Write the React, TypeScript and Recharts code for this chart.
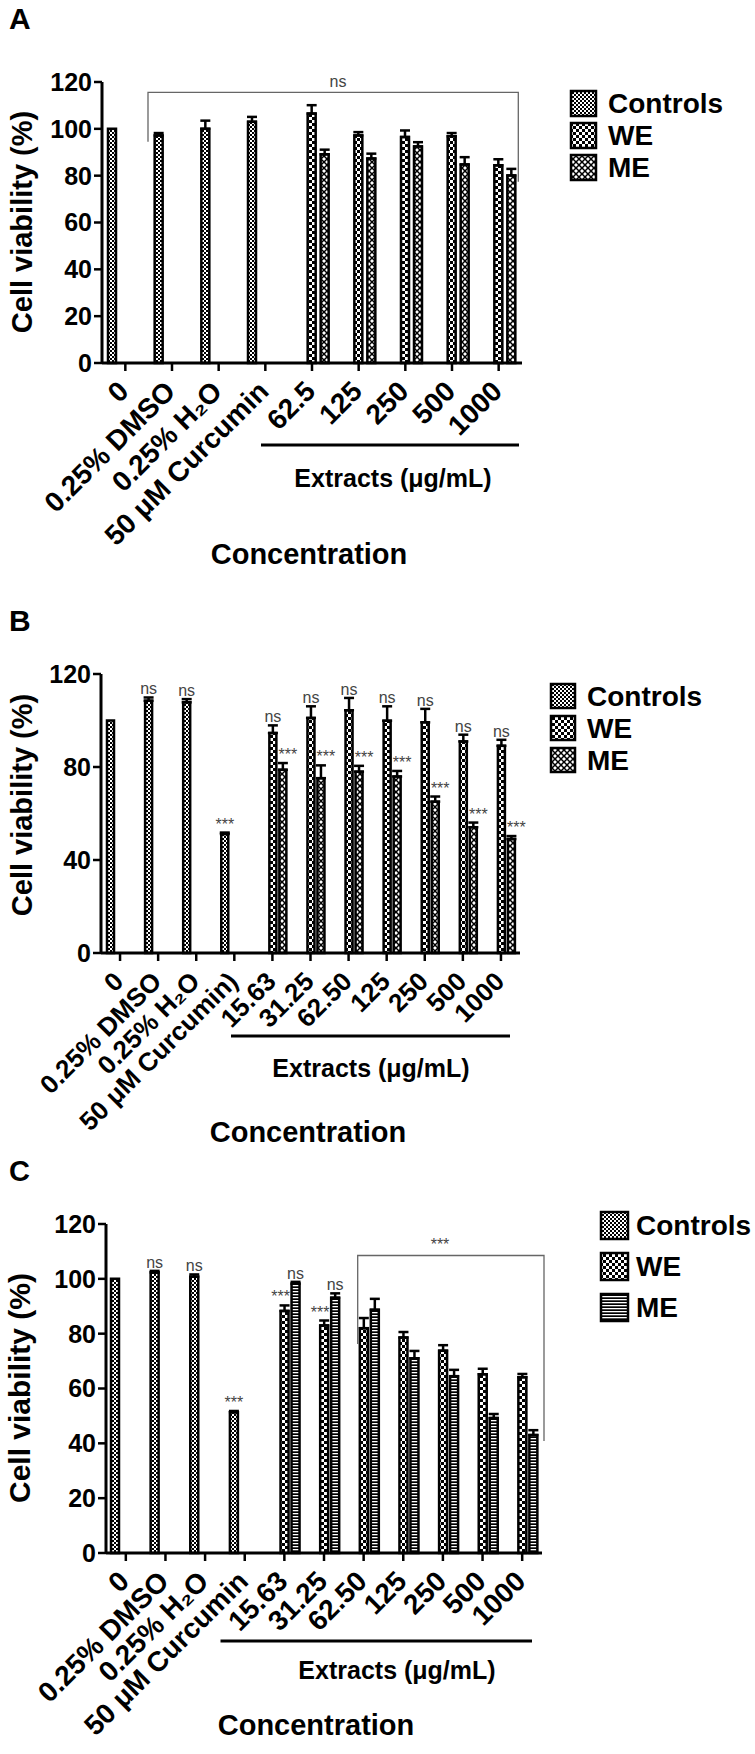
import React from 'react';
import { BarChart, Bar, XAxis, YAxis, ErrorBar, LabelList } from 'recharts';

const FONT = '"Liberation Sans", Arial, Helvetica, sans-serif';

const seriesNames = ['Controls', 'WE', 'ME'];

// ---- panel A ----
const catsA = ['0', '0.25% DMSO', '0.25% H₂O', '50 μM Curcumin', '62.5', '125', '250', '500', '1000'];
const ctrlA = [100, 97.2, 100, 103, null, null, null, null, null];
const ctrlErrA = [null, 1, 3.5, 2.1, null, null, null, null, null];
const weA = [null, null, null, null, 106.5, 97.2, 96.5, 96.8, 84.4];
const weErrA = [null, null, null, null, 3.6, 1.4, 2.8, 1.4, 2.6];
const meA = [null, null, null, null, 89.1, 87.3, 92.5, 84.8, 80.1];
const meErrA = [null, null, null, null, 2, 2.1, 1.8, 3.1, 2.8];
const ctrlSigA = [null, null, null, null, null, null, null, null, null];
const weSigA = [null, null, null, null, null, null, null, null, null];
const meSigA = [null, null, null, null, null, null, null, null, null];
const ticksA = [0, 20, 40, 60, 80, 100, 120];

// ---- panel B ----
const catsB = ['0', '0.25% DMSO', '0.25% H₂O', '50 μM Curcumin)', '15.63', '31.25', '62.50', '125', '250', '500', '1000'];
const ctrlB = [100, 108.5, 107.8, 51.2, null, null, null, null, null, null, null];
const ctrlErrB = [null, 1.4, 1.4, 0.6, null, null, null, null, null, null, null];
const weB = [null, null, null, null, 94.6, 101.1, 104.4, 99.9, 99.2, 91, 89.1];
const weErrB = [null, null, null, null, 3.3, 5, 5.3, 6.2, 5.8, 2.9, 2.6];
const meB = [null, null, null, null, 78.8, 75.2, 78, 75.9, 65.1, 54.1, 49];
const meErrB = [null, null, null, null, 2.9, 5.5, 2.5, 2.4, 2.2, 2, 1.3];
const ctrlSigB = [null, 'ns', 'ns', '***', null, null, null, null, null, null, null];
const weSigB = [null, null, null, null, 'ns', 'ns', 'ns', 'ns', 'ns', 'ns', 'ns'];
const meSigB = [null, null, null, null, '***', '***', '***', '***', '***', '***', '***'];
const ticksB = [0, 40, 80, 120];

// ---- panel C ----
const catsC = ['0', '0.25% DMSO', '0.25% H₂O', '50 μM Curcumin', '15.63', '31.25', '62.50', '125', '250', '500', '1000'];
const ctrlC = [100, 102.3, 100.8, 51.3, null, null, null, null, null, null, null];
const ctrlErrC = [null, 0.6, 0.8, 0.5, null, null, null, null, null, null, null];
const weC = [null, null, null, null, 88.3, 83, 82, 78.6, 73.8, 65.2, 64.1];
const weErrC = [null, null, null, null, 2, 1.8, 3.7, 2, 2, 2, 1.2];
const meC = [null, null, null, null, 98.2, 93.1, 88.7, 71, 64.5, 49.2, 43];
const meErrC = [null, null, null, null, 0.7, 1.6, 4, 2.7, 2.3, 1.5, 1.8];
const ctrlSigC = [null, 'ns', 'ns', '***', null, null, null, null, null, null, null];
const weSigC = [null, null, null, null, '***', '***', null, null, null, null, null];
const meSigC = [null, null, null, null, 'ns', 'ns', null, null, null, null, null];
const ticksC = [0, 20, 40, 60, 80, 100, 120];

const panels = [
  {
    id: 'A', cats: catsA, ctrl: ctrlA, ctrlErr: ctrlErrA, we: weA, weErr: weErrA, me: meA, meErr: meErrA,
    ctrlSig: ctrlSigA, weSig: weSigA, meSig: meSigA, ticks: ticksA,
    top: 0, width: 540, height: 560, left: 102, plotTop: 82, plotW: 420, plotH: 281,
    barSize: 8, barGap: 5, meFill: 'url(#pME)', weDx: 0, meDx: 0, tickFont: 28,
  },
  {
    id: 'B', cats: catsB, ctrl: ctrlB, ctrlErr: ctrlErrB, we: weB, weErr: weErrB, me: meB, meErr: meErrB,
    ctrlSig: ctrlSigB, weSig: weSigB, meSig: meSigB, ticks: ticksB,
    top: 600, width: 540, height: 540, left: 101, plotTop: 74, plotW: 419, plotH: 279,
    barSize: 7, barGap: 3, meFill: 'url(#pME)', weDx: 0, meDx: 5, tickFont: 26,
  },
  {
    id: 'C', cats: catsC, ctrl: ctrlC, ctrlErr: ctrlErrC, we: weC, weErr: weErrC, me: meC, meErr: meErrC,
    ctrlSig: ctrlSigC, weSig: weSigC, meSig: meSigC, ticks: ticksC,
    top: 1180, width: 560, height: 574, left: 106, plotTop: 44, plotW: 436, plotH: 329,
    barSize: 8, barGap: 3, meFill: 'url(#pMEs)', weDx: -4, meDx: 0, tickFont: 28,
  },
];

const PatternDefs = () => (
  <svg width={0} height={0} style={{ position: 'absolute' }}>
    <defs>
      <pattern id="pCtrl" patternUnits="userSpaceOnUse" width={4} height={4}>
        <rect width={4} height={4} fill="#fff" />
        <rect width={2} height={2} fill="#000" />
        <rect x={2} y={2} width={2} height={2} fill="#000" />
      </pattern>
      <pattern id="pWE" patternUnits="userSpaceOnUse" width={6} height={6}>
        <rect width={6} height={6} fill="#000" />
        <rect width={3} height={3} fill="#fff" />
        <rect x={3} y={3} width={3} height={3} fill="#fff" />
      </pattern>
      <pattern id="pME" patternUnits="userSpaceOnUse" width={6} height={6}>
        <rect width={6} height={6} fill="#fff" />
        <path d="M0,0 L6,6 M6,0 L0,6" stroke="#000" strokeWidth={1.5} />
      </pattern>
      <pattern id="pMEs" patternUnits="userSpaceOnUse" width={4} height={3}>
        <rect width={4} height={3} fill="#000" />
        <rect width={4} height={1.3} fill="#fff" />
      </pattern>
    </defs>
  </svg>
);

const makeXTick = (fontSize: number) => (props: any) => {
  const { x, y, payload } = props;
  return (
    <g transform={`translate(${x + 5},${y + 20})`}>
      <text textAnchor="end" transform="rotate(-45)" fontSize={fontSize} fontWeight="bold" fontFamily={FONT} fill="#000">
        {payload.value}
      </text>
    </g>
  );
};

const sigLabel = (pxPerUnit: number, dx: number) => (props: any) => {
  const { value } = props;
  if (value == null || value === '') return null;
  const [sig, err] = String(value).split('|');
  const vb = props.viewBox || {};
  const bx = props.x ?? vb.x;
  const by = props.y ?? vb.y;
  const bw = props.width ?? vb.width;
  const cx = bx + bw / 2 + dx;
  const cy = by - Number(err || 0) * pxPerUnit - 3;
  return (
    <text x={cx} y={cy} textAnchor="middle" fontSize={16} fontFamily={FONT} fill="#444">
      {sig}
    </text>
  );
};

const errPair = (e: number | null) => (e ? [0, e] : null);
const sigKey = (key: string, errKey: string) => (d: any) => (d[key] ? `${d[key]}|${d[errKey] || 0}` : null);

function ViabilityChart({ p }: { p: any }) {
  const data = p.cats.map((name: string, i: number) => ({
    name,
    ctrl: p.ctrl[i],
    ctrlErr: errPair(p.ctrlErr[i]),
    ctrlE: p.ctrlErr[i],
    ctrlSig: p.ctrlSig[i],
    we: p.we[i],
    weErr: errPair(p.weErr[i]),
    weE: p.weErr[i],
    weSig: p.weSig[i],
    me: p.me[i],
    meErr: errPair(p.meErr[i]),
    meE: p.meErr[i],
    meSig: p.meSig[i],
  }));
  const pxPerUnit = p.plotH / 120;
  const xAxisH = p.height - p.plotTop - p.plotH;
  const XTick = makeXTick(p.tickFont);
  return (
    <BarChart
      width={p.width}
      height={p.height}
      data={data}
      margin={{ top: p.plotTop, right: p.width - p.left - p.plotW, left: 0, bottom: 0 }}
      barSize={p.barSize}
      barGap={p.barGap}
    >
      <XAxis
        dataKey="name"
        interval={0}
        height={xAxisH}
        tickSize={8}
        axisLine={{ stroke: '#000', strokeWidth: 3 }}
        tickLine={{ stroke: '#000', strokeWidth: 2.5 }}
        tick={<XTick />}
      />
      <YAxis
        type="number"
        domain={[0, 120]}
        ticks={p.ticks}
        interval={0}
        width={p.left}
        tickSize={8}
        axisLine={{ stroke: '#000', strokeWidth: 3 }}
        tickLine={{ stroke: '#000', strokeWidth: 2.5 }}
        tick={{ fontSize: 25, fontWeight: 'bold', fill: '#000', fontFamily: FONT }}
      />
      <Bar dataKey="ctrl" name={seriesNames[0]} fill="url(#pCtrl)" stroke="#000" strokeWidth={2.5} isAnimationActive={false}>
        <ErrorBar dataKey="ctrlErr" width={5} strokeWidth={2.5} stroke="#000" isAnimationActive={false} />
        <LabelList dataKey={sigKey('ctrlSig', 'ctrlE')} content={sigLabel(pxPerUnit, 0)} />
      </Bar>
      <Bar dataKey="we" name={seriesNames[1]} fill="url(#pWE)" stroke="#000" strokeWidth={2.5} isAnimationActive={false}>
        <ErrorBar dataKey="weErr" width={5} strokeWidth={2.5} stroke="#000" isAnimationActive={false} />
        <LabelList dataKey={sigKey('weSig', 'weE')} content={sigLabel(pxPerUnit, p.weDx)} />
      </Bar>
      <Bar dataKey="me" name={seriesNames[2]} fill={p.meFill} stroke="#000" strokeWidth={2.5} isAnimationActive={false}>
        <ErrorBar dataKey="meErr" width={5} strokeWidth={2.5} stroke="#000" isAnimationActive={false} />
        <LabelList dataKey={sigKey('meSig', 'meE')} content={sigLabel(pxPerUnit, p.meDx)} />
      </Bar>
    </BarChart>
  );
}

const LegendBlock = ({ x, tx, rows, size, meFill }: any) => (
  <g>
    {seriesNames.map((n, i) => (
      <g key={n}>
        <rect x={x} y={rows[i]} width={size} height={size} fill={['url(#pCtrl)', 'url(#pWE)', meFill][i]} stroke="#000" strokeWidth={2.5} />
        <text x={tx} y={rows[i] + size / 2} dominantBaseline="central" fontSize={28} fontWeight="bold" fontFamily={FONT} fill="#000">
          {n}
        </text>
      </g>
    ))}
  </g>
);

const bold = { fontFamily: FONT, fontWeight: 'bold' as const, fill: '#000' };

export default function App() {
  return (
    <div style={{ position: 'absolute', left: 0, top: 0, width: 755, height: 1754, background: '#fff', fontFamily: FONT, overflow: 'hidden' }}>
      <PatternDefs />
      {panels.map((p) => (
        <div key={p.id} style={{ position: 'absolute', left: 0, top: p.top }}>
          <ViabilityChart p={p} />
        </div>
      ))}
      <svg width={755} height={1754} style={{ position: 'absolute', left: 0, top: 0, pointerEvents: 'none' }}>
        {/* panel A */}
        <text x={9} y={29} fontSize={30} {...bold}>A</text>
        <text transform="translate(22,222) rotate(-90)" textAnchor="middle" dominantBaseline="central" fontSize={29} {...bold}>Cell viability (%)</text>
        <path d="M148,141.7 V92.3 H518.3 V181.7" fill="none" stroke="#666" strokeWidth={1.3} />
        <text x={338} y={87} textAnchor="middle" fontSize={16} fontFamily={FONT} fill="#444">ns</text>
        <line x1={261} y1={445} x2={519} y2={445} stroke="#000" strokeWidth={3} />
        <text x={393} y={478} textAnchor="middle" dominantBaseline="central" fontSize={25} {...bold}>Extracts (μg/mL)</text>
        <text x={309} y={554} textAnchor="middle" dominantBaseline="central" fontSize={29} {...bold}>Concentration</text>
        <LegendBlock x={571} tx={608} rows={[91, 123, 155]} size={25} meFill="url(#pME)" />

        {/* panel B */}
        <text x={9} y={631} fontSize={30} {...bold}>B</text>
        <text transform="translate(22,805) rotate(-90)" textAnchor="middle" dominantBaseline="central" fontSize={29} {...bold}>Cell viability (%)</text>
        <line x1={231} y1={1036} x2={510} y2={1036} stroke="#000" strokeWidth={3} />
        <text x={371} y={1068} textAnchor="middle" dominantBaseline="central" fontSize={25} {...bold}>Extracts (μg/mL)</text>
        <text x={308} y={1132} textAnchor="middle" dominantBaseline="central" fontSize={29} {...bold}>Concentration</text>
        <LegendBlock x={551} tx={587} rows={[684, 716, 748]} size={24} meFill="url(#pME)" />

        {/* panel C */}
        <text x={9} y={1181} fontSize={29} {...bold}>C</text>
        <text transform="translate(19,1388) rotate(-90)" textAnchor="middle" dominantBaseline="central" fontSize={30} {...bold}>Cell viability (%)</text>
        <path d="M357.7,1344 V1255.5 H544 V1441" fill="none" stroke="#666" strokeWidth={1.3} />
        <text x={440} y={1250} textAnchor="middle" fontSize={16} fontFamily={FONT} fill="#444">***</text>
        <line x1={220.5} y1={1641} x2={532} y2={1641} stroke="#000" strokeWidth={3} />
        <text x={397} y={1670} textAnchor="middle" dominantBaseline="central" fontSize={25} {...bold}>Extracts (μg/mL)</text>
        <text x={316} y={1725} textAnchor="middle" dominantBaseline="central" fontSize={29} {...bold}>Concentration</text>
        <LegendBlock x={601} tx={636} rows={[1212, 1253, 1294]} size={27} meFill="url(#pMEs)" />
      </svg>
    </div>
  );
}
